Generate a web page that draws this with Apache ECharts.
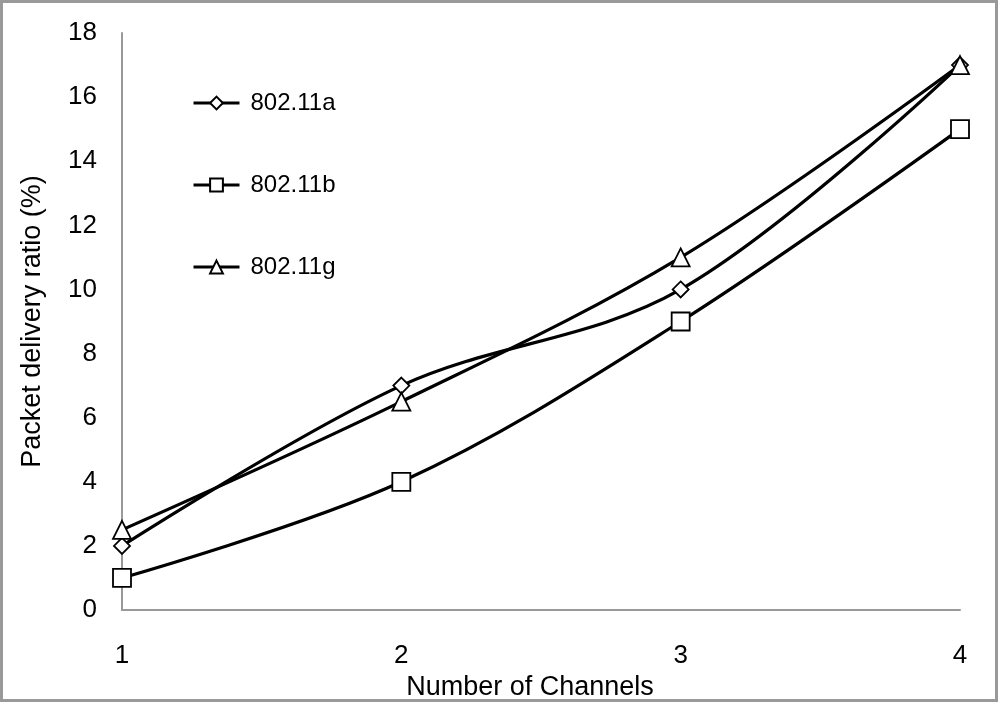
<!DOCTYPE html>
<html>
<head>
<meta charset="utf-8">
<script src="https://cdn.jsdelivr.net/npm/echarts@6/dist/echarts.min.js"></script>
<style>
  html, body { margin: 0; padding: 0; background: #fff; }
  #chart { width: 1000px; height: 704px; }
</style>
</head>
<body>
<div id="chart"></div>
<script>
var channels = [1, 2, 3, 4];
var seriesNames = ["802.11a", "802.11b", "802.11g"];
var valuesA = [2, 7, 10, 17];
var valuesB = [1, 4, 9, 15];
var valuesG = [2.5, 6.5, 11, 17];

function pairs(vals) {
    return channels.map(function (c, i) { return [c, vals[i]]; });
}

var font = "Liberation Sans, Arial, sans-serif";

function makeSeries(name, vals, symbol, size) {
    return {
        name: name,
        type: 'line',
        smooth: 0.35,
        symbol: symbol,
        symbolSize: size,
        showAllSymbol: true,
        lineStyle: { color: '#000', width: 3.2 },
        itemStyle: { color: '#fff', borderColor: '#000', borderWidth: 1.8 },
        z: 3,
        data: pairs(vals)
    };
}

var chart = echarts.init(document.getElementById('chart'));
var option = {
    backgroundColor: '#fff',
    animation: false,
    grid: { left: 122, right: 40, top: 33, bottom: 94, outerBoundsMode: 'none', containLabel: false },
    legend: {
        orient: 'vertical',
        left: 192,
        top: 91,
        padding: 0,
        itemWidth: 46,
        itemHeight: 16,
        itemGap: 58,
        lineStyle: { width: 3 },
        textStyle: { color: '#000', fontSize: 24, lineHeight: 24, fontFamily: font, padding: [0, 0, 0, 6] },
        data: seriesNames
    },
    graphic: [{
        type: 'rect',
        shape: { x: 1.5, y: 1.5, width: 995, height: 699 },
        style: { fill: 'none', stroke: '#999', lineWidth: 3 },
        silent: true
    }],
    xAxis: {
        type: 'value',
        min: 1,
        max: 4,
        interval: 1,
        name: 'Number of Channels',
        nameLocation: 'middle',
        nameGap: 64,
        nameTextStyle: { color: '#000', fontSize: 27, fontFamily: font, padding: [0, 22, 0, 0] },
        axisLine: { show: true, lineStyle: { color: '#999', width: 2 } },
        axisTick: { show: false },
        splitLine: { show: false },
        axisLabel: { color: '#000', fontSize: 26, fontFamily: font, margin: 33 }
    },
    yAxis: {
        type: 'value',
        min: 0,
        max: 18,
        interval: 2,
        name: 'Packet delivery ratio (%)',
        nameLocation: 'middle',
        nameGap: 76,
        nameTextStyle: { color: '#000', fontSize: 27, fontFamily: font },
        axisLine: { show: true, lineStyle: { color: '#999', width: 2 } },
        axisTick: { show: false },
        splitLine: { show: false },
        axisLabel: { color: '#000', fontSize: 26, fontFamily: font, margin: 25 }
    },
    series: [
        makeSeries(seriesNames[0], valuesA, 'diamond', 16),
        makeSeries(seriesNames[1], valuesB, 'rect', 18),
        makeSeries(seriesNames[2], valuesG, 'triangle', 18)
    ]
};
chart.setOption(option);
</script>
</body>
</html>
